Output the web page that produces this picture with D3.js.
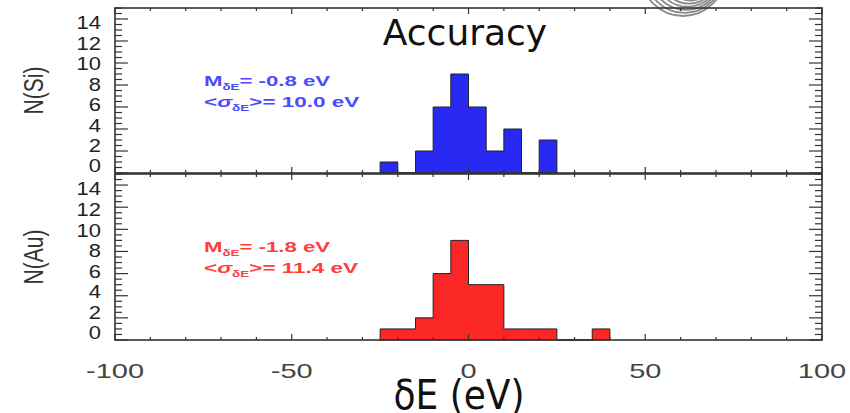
<!DOCTYPE html>
<html><head><meta charset="utf-8">
<script src="https://cdn.jsdelivr.net/npm/d3@7/dist/d3.min.js"></script>
<style>body{margin:0;background:#fff}svg{display:block}</style>
</head><body>
<svg id="c" width="850" height="413"></svg>
<script>
// ---- data ----
const binEdges = [-25,-20,-15,-10,-5,0,5,10,15,20,25,30,35,40];
const countsSi = [1,0,2,6,9,6,2,4,0,3,0,0,0];
const countsAu = [1,1,2,6,9,5,5,1,1,1,0,0,1];
const xTickLabels = [-100,-50,0,50,100];
const yTickLabels = [0,2,4,6,8,10,12,14];
const panelLabels = ["N(Si)","N(Au)"];
const statsSi = {M:"-0.8", S:"10.0"};
const statsAu = {M:"-1.8", S:"11.4"};

const svg = d3.select("#c");
const x = d3.scaleLinear([-100,100],[115,822]);
const panels = [
  {y:d3.scaleLinear([0,15],[173,8]), counts:countsSi, fill:"#2929f4", txt:"#4a4aff", label:panelLabels[0], stats:statsSi},
  {y:d3.scaleLinear([0,15],[340,174]), counts:countsAu, fill:"#fb2727", txt:"#ff3d3d", label:panelLabels[1], stats:statsAu}
];
const axisCol = "#333";
const FONT = "Liberation Sans, Arial, Helvetica, sans-serif";

// decorative logo arc (top right)
const logo = svg.append("g");
logo.append("clipPath").attr("id","lc").append("rect").attr("x",600).attr("y",0).attr("width",200).attr("height",17);
for (let i=0;i<7;i++){
  logo.append("circle").attr("clip-path","url(#lc)")
    .attr("cx",683+i*1.5).attr("cy",-26+i*0.3).attr("r",42-i*3.4)
    .attr("fill","none").attr("stroke","#8a8a8a").attr("stroke-width",1.8);
}

panels.forEach(p=>{
  const y = p.y;
  const y0 = y(0), y1 = y(15);
  const g = svg.append("g");
  // histogram as one step polygon
  let last = p.counts.length-1;
  while(last>0 && p.counts[last]===0) last--;
  const pts=[[x(binEdges[0]),y0]];
  for(let i=0;i<=last;i++){
    pts.push([x(binEdges[i]),y(p.counts[i])]);
    pts.push([x(binEdges[i+1]),y(p.counts[i])]);
  }
  pts.push([x(binEdges[last+1]),y0]);
  g.append("path").attr("d",d3.line()(pts)+"Z").attr("fill",p.fill).attr("stroke","#222").attr("stroke-width",1);

  // frame
  g.append("rect").attr("x",x(-100)).attr("y",y1).attr("width",x(100)-x(-100)).attr("height",y0-y1)
    .attr("fill","none").attr("stroke",axisCol).attr("stroke-width",1.6);

  // x ticks top & bottom
  d3.range(-100,101,10).forEach(v=>{
    const L = (v%50===0)?6:3;
    g.append("line").attr("x1",x(v)).attr("x2",x(v)).attr("y1",y0).attr("y2",y0-L).attr("stroke",axisCol).attr("stroke-width",1.2);
    g.append("line").attr("x1",x(v)).attr("x2",x(v)).attr("y1",y1).attr("y2",y1+L).attr("stroke",axisCol).attr("stroke-width",1.2);
  });
  // y ticks left & right
  d3.range(0,15.01,0.5).forEach(v=>{
    const L = (v%2===0)?13:7;
    g.append("line").attr("x1",x(-100)).attr("x2",x(-100)+L).attr("y1",y(v)).attr("y2",y(v)).attr("stroke",axisCol).attr("stroke-width",1.2);
    g.append("line").attr("x1",x(100)).attr("x2",x(100)-L).attr("y1",y(v)).attr("y2",y(v)).attr("stroke",axisCol).attr("stroke-width",1.2);
  });
  // y tick labels (IDL-style placement)
  const yl = d3.scaleLinear([0,14],[y0-7, y1+15]);
  yTickLabels.forEach(v=>{
    g.append("text").attr("transform",`translate(101,${yl(v)}) scale(1.22,1)`).attr("dy","0.36em").attr("text-anchor","end")
      .attr("font-family",FONT).attr("font-size",18).attr("fill","#222").text(v);
  });
  // y axis label
  g.append("text").attr("transform",`translate(43,${(y0+y1)/2}) scale(1.3,1) rotate(-90)`).attr("text-anchor","middle")
    .attr("font-family",FONT).attr("font-size",21).attr("fill","#333").text(p.label);

  // stats text
  const mk = (yy,sx)=> g.append("text").attr("transform",`translate(204,${yy}) scale(${sx},1)`)
    .attr("font-family",FONT).attr("font-weight","bold").attr("font-size",15).attr("fill",p.txt);
  const t1 = mk(y1+78,1.48);
  t1.append("tspan").text("M");
  t1.append("tspan").attr("font-size",9).attr("dy",4).text("δE");
  t1.append("tspan").attr("dy",-4).text("= "+p.stats.M+" eV");
  const t2 = mk(y1+99,1.5);
  t2.append("tspan").text("<");
  t2.append("tspan").attr("font-style","italic").text("σ");
  t2.append("tspan").attr("font-size",9).attr("dy",4).text("δE");
  t2.append("tspan").attr("dy",-4).text(">= "+p.stats.S+" eV");
});

// x tick labels
xTickLabels.forEach(v=>{
  svg.append("text").attr("transform",`translate(${x(v)},371) scale(1.45,1)`).attr("dy","0.36em").attr("text-anchor","middle")
    .attr("font-family",FONT).attr("font-size",20).attr("fill","#444").text(v);
});
// x axis title
svg.append("text").attr("x",459).attr("y",409).attr("text-anchor","middle")
  .attr("font-family","DejaVu Sans Condensed, DejaVu Sans, sans-serif").attr("font-stretch","condensed").attr("font-size",40).attr("fill","#111").text("δE (eV)");
// title
svg.append("text").attr("x",465).attr("y",45).attr("text-anchor","middle")
  .attr("font-family","DejaVu Sans, Verdana, sans-serif").attr("font-size",36).attr("fill","#111").text("Accuracy");
</script>
</body></html>
